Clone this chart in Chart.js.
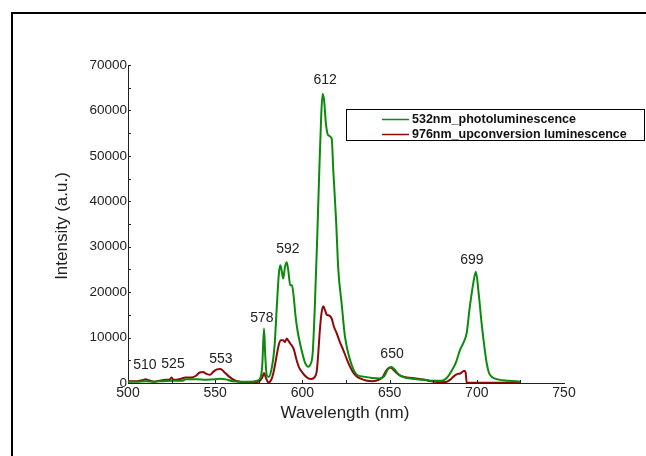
<!DOCTYPE html>
<html>
<head>
<meta charset="utf-8">
<script src="https://cdn.jsdelivr.net/npm/chart.js@4"></script>
<style>
  body { margin: 0; background: #fff; }
  canvas { display: block; }
</style>
</head>
<body>
<canvas id="plChart" width="646" height="456"></canvas>
<script>
// 532 nm excitation (photoluminescence)
const greenNm = [500, 505, 510, 515, 520, 525, 530, 532, 533, 540, 545, 550, 553, 556, 560, 565, 570, 574, 576, 577, 578, 578.7, 579.5, 580.5, 582, 584, 585.5, 586.5, 587.3, 588, 589, 590, 591, 592, 593, 594, 595, 596, 597, 598.6, 600, 601.5, 603.4, 604.5, 605.9, 607.2, 608.5, 609.7, 610.8, 611.6, 612.5, 613.5, 614.9, 616.8, 617.7, 619.3, 620.6, 622.5, 624.4, 627.3, 631, 635, 640, 644, 647, 649, 651, 653, 655, 658, 662, 670, 675, 680, 683, 685, 688, 690.4, 692.5, 694.2, 696, 698, 699.5, 701, 702.8, 704.5, 705.7, 707, 708.5, 712, 718, 725];
const greenI = [300, 300, 400, 300, 400, 500, 500, 600, 850, 800, 700, 800, 950, 800, 400, 300, 300, 500, 1200, 4000, 12000, 6000, 1800, 1300, 2500, 8000, 18000, 24000, 25900, 25000, 23000, 25500, 26600, 24500, 21500, 21500, 19000, 15000, 12000, 8800, 6500, 4500, 3600, 4000, 6600, 17600, 32000, 46900, 59000, 63600, 62000, 57000, 54500, 53800, 46900, 35900, 24900, 17500, 10200, 5100, 1900, 1400, 1100, 1000, 1500, 3000, 3500, 2900, 2000, 1300, 1000, 700, 500, 500, 1200, 2300, 4500, 7300, 9000, 11000, 16800, 22000, 24500, 20000, 13000, 7500, 4300, 2200, 1400, 800, 500, 300];

// 976 nm excitation (upconversion)
const redNm = [500, 505, 508, 510, 512, 515, 518, 522, 524, 525, 526, 530, 533, 536, 539, 541, 543, 545, 547, 549, 551, 553, 555, 558, 561, 565, 570, 575, 577, 578, 579, 580.5, 582, 583.3, 585, 586.2, 587.5, 589, 590, 591, 592, 593, 594, 595, 596.7, 598, 599.6, 601.5, 603.4, 605, 607, 608.2, 609, 610, 611, 612, 613, 614, 615, 616.8, 618, 619.7, 621.5, 623.5, 625.5, 627.3, 629, 631, 633, 637, 640, 643, 646, 648, 650.2, 652, 654, 656, 660, 665, 670, 674, 678, 682, 685, 686.6, 689, 690.4, 692.9, 693.6, 694.2, 700, 710, 725];
const redI = [400, 400, 600, 800, 600, 300, 500, 700, 800, 1200, 700, 900, 1200, 1200, 1600, 2300, 2400, 2000, 1800, 2500, 3000, 3100, 2500, 1400, 600, 200, 100, 300, 1200, 2200, 1200, 100, 600, 2100, 5500, 8000, 9400, 9400, 9000, 9800, 9300, 8700, 8200, 7500, 5000, 3500, 2500, 1600, 1000, 900, 1300, 2500, 6000, 11600, 15500, 16900, 16000, 15000, 14900, 14200, 12500, 10900, 9000, 7200, 5200, 3600, 2400, 1500, 1000, 500, 400, 600, 1300, 2700, 3400, 3000, 2200, 1600, 1200, 1000, 700, 400, 200, 200, 800, 1400, 2000, 2100, 2700, 2300, 100, 50, 50, 50];

// peak annotations: text, wavelength position, height of label centre
const peakText = ['510', '525', '553', '578', '592', '612', '650', '699'];
const peakNm = [509.7, 525.8, 553.3, 576.8, 591.7, 613, 651.4, 697.2];
const peakY = [4000, 4200, 5300, 14300, 29500, 66700, 6400, 27100];

const xTicks = [500, 550, 600, 650, 700, 750];
const yTicks = [0, 10000, 20000, 30000, 40000, 50000, 60000, 70000];

const FONT = '"Liberation Sans", Arial, sans-serif';
const toPoints = (xs, ys) => xs.map((x, i) => ({ x: x, y: ys[i] }));

const decorations = {
    id: 'decorations',
    beforeDraw(chart) {
        const ctx = chart.ctx;
        ctx.save();
        ctx.strokeStyle = '#000';
        ctx.lineWidth = 2;
        ctx.strokeRect(12, 13, 800, 600);
        ctx.restore();
    },
    afterDraw(chart) {
        const ctx = chart.ctx;
        const xs = chart.scales.x, ys = chart.scales.y;
        ctx.save();

        // small inward ticks
        ctx.strokeStyle = '#222';
        ctx.lineWidth = 1;
        ctx.beginPath();
        for (let v = 525; v < 750; v += 25) {
            const px = Math.round(xs.getPixelForValue(v)) + 0.5;
            ctx.moveTo(px, ys.bottom);
            ctx.lineTo(px, ys.bottom - 3);
        }
        for (let v = 5000; v <= 70000; v += 5000) {
            const py = Math.round(ys.getPixelForValue(v)) + 0.5;
            ctx.moveTo(xs.left, py);
            ctx.lineTo(xs.left + 3, py);
        }
        ctx.stroke();

        // peak labels
        ctx.fillStyle = '#222';
        ctx.font = '14px ' + FONT;
        ctx.textAlign = 'center';
        ctx.textBaseline = 'middle';
        peakText.forEach((t, i) => {
            ctx.fillText(t, xs.getPixelForValue(peakNm[i]), ys.getPixelForValue(peakY[i]));
        });

        // axis titles
        ctx.font = '17px ' + FONT;
        ctx.fillText('Wavelength (nm)', 345, 413);
        ctx.translate(62, 226);
        ctx.rotate(-Math.PI / 2);
        ctx.fillText('Intensity (a.u.)', 0, 0);
        ctx.setTransform(1, 0, 0, 1, 0, 0);

        // legend box
        ctx.strokeStyle = '#000';
        ctx.lineWidth = 1;
        ctx.strokeRect(346.5, 109.5, 298, 31);
        ctx.font = 'bold 12.5px ' + FONT;
        ctx.textAlign = 'left';
        chart.data.datasets.forEach((ds, i) => {
            const y = 119.5 + i * 15;
            ctx.strokeStyle = ds.borderColor;
            ctx.lineWidth = 1.5;
            ctx.beginPath();
            ctx.moveTo(382, y);
            ctx.lineTo(409, y);
            ctx.stroke();
            ctx.fillStyle = '#111';
            ctx.fillText(ds.label, 412, y + 0.5);
        });
        ctx.restore();
    }
};

new Chart(document.getElementById('plChart'), {
    type: 'line',
    data: {
        datasets: [{
            label: '532nm_photoluminescence',
            data: toPoints(greenNm, greenI),
            borderColor: '#0b8a0b',
            borderWidth: 2,
            pointRadius: 0,
            cubicInterpolationMode: 'monotone'
        }, {
            label: '976nm_upconversion luminescence',
            data: toPoints(redNm, redI),
            borderColor: '#8e0a0a',
            borderWidth: 2,
            pointRadius: 0,
            cubicInterpolationMode: 'monotone'
        }]
    },
    options: {
        responsive: false,
        animation: false,
        devicePixelRatio: 1,
        layout: { padding: { left: 0, top: 65, right: 82, bottom: 0 } },
        plugins: { legend: { display: false }, tooltip: { enabled: false } },
        scales: {
            x: {
                type: 'linear',
                min: 500,
                max: 750,
                afterBuildTicks: s => { s.ticks = xTicks.map(v => ({ value: v })); },
                afterFit: s => { s.height = 73; },
                grid: { drawOnChartArea: false, drawTicks: false },
                border: { color: '#222', width: 1 },
                ticks: { color: '#222', padding: 2, maxRotation: 0, font: { family: FONT, size: 14 }, callback: v => String(v) }
            },
            y: {
                min: 0,
                max: 70000,
                afterBuildTicks: s => { s.ticks = yTicks.map(v => ({ value: v })); },
                afterFit: s => { s.width = 128; },
                grid: { drawOnChartArea: false, drawTicks: false },
                border: { color: '#222', width: 1 },
                ticks: { color: '#222', padding: 1, font: { family: FONT, size: 13.5 }, callback: v => String(v) }
            }
        }
    },
    plugins: [decorations]
});
</script>
</body>
</html>
